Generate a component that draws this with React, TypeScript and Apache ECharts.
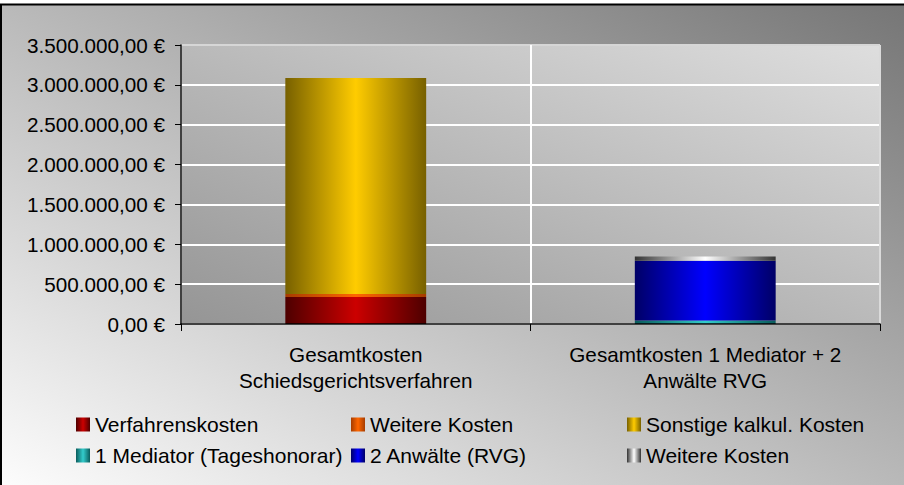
import React, { useEffect, useRef } from 'react';
import * as echarts from 'echarts';

const categories = ['Gesamtkosten\nSchiedsgerichtsverfahren', 'Gesamtkosten 1 Mediator + 2\nAnwälte RVG'];

const verfahrenskosten = [340000, '-'];
const weitereKostenSchied = [37000, '-'];
const sonstigeKosten = [2708000, '-'];
const mediator = ['-', 45000];
const anwaelte = ['-', 748000];
const weitereKostenMed = ['-', 54000];

const seriesNames = [
  'Verfahrenskosten',
  'Weitere Kosten',
  'Sonstige kalkul. Kosten',
  '1 Mediator (Tageshonorar)',
  '2 Anwälte (RVG)',
  'Weitere Kosten',
];

const yMin = 0;
const yMax = 3500000;
const yInterval = 500000;

const FONT = '"Liberation Sans", Arial, sans-serif';

function grad(dark: string, bright: string) {
  return new echarts.graphic.LinearGradient(0, 0, 1, 0, [
    { offset: 0, color: dark },
    { offset: 0.5, color: bright },
    { offset: 1, color: dark },
  ]);
}

function fmtEuro(v: number) {
  const s = Math.round(v).toString().replace(/\B(?=(\d{3})+(?!\d))/g, '.');
  return s + ',00 €';
}

export default function App() {
  const ref = useRef<HTMLDivElement>(null);
  useEffect(() => {
    document.body.style.margin = '0';
    const chart = echarts.init(ref.current!, undefined, { renderer: 'svg' });

    const colors = [
      grad('#4d0000', '#cc0000'),
      grad('#a63c00', '#ff6600'),
      grad('#776000', '#ffcc00'),
      grad('#0a5c5c', '#33cccc'),
      grad('#000066', '#0000ff'),
      grad('#333333', '#ffffff'),
    ];
    const datas = [verfahrenskosten, weitereKostenSchied, sonstigeKosten, mediator, anwaelte, weitereKostenMed];

    const legendBase = {
      padding: 0,
      itemWidth: 14,
      itemHeight: 14,
      icon: 'rect',
      selectedMode: false,
      textStyle: { fontSize: 21, color: '#000', fontFamily: FONT },
    };
    const legendPos = [
      [76, 414],
      [351, 414],
      [627, 414],
      [76, 445],
      [351, 445],
      [627, 445],
    ];

    const splitColors = ['#ffffff', '#ffffff', '#ffffff', '#ffffff', '#ffffff', '#ffffff', '#ffffff', '#d6d6d6'];
    const xSplitColors = ['#ffffff', '#ffffff', '#dadada'];

    chart.setOption({
      animation: false,
      textStyle: { fontFamily: FONT },
      graphic: [
        {
          type: 'rect',
          z: -100,
          silent: true,
          shape: { x: 1, y: 4.5, width: 930, height: 500 },
          style: {
            fill: new echarts.graphic.LinearGradient(0, 1, 1, 0, [
              { offset: 0, color: '#ffffff' },
              { offset: 1, color: '#747474' },
            ]),
            stroke: '#000',
            lineWidth: 2,
          },
        },
      ],
      grid: {
        left: 181,
        right: 24,
        top: 45,
        bottom: 161,
        show: true,
        backgroundColor: new echarts.graphic.LinearGradient(0, 1, 1, 0, [
          { offset: 0, color: '#959595' },
          { offset: 1, color: '#dedede' },
        ]),
        borderColor: '#cfcfcf',
        borderWidth: 1,
      },
      legend: seriesNames.map((n, i) => ({
        ...legendBase,
        left: legendPos[i][0],
        top: legendPos[i][1],
        data: i === 5 ? [{ name: n, itemStyle: { color: colors[5] } }] : [n],
      })),
      xAxis: [
        {
          type: 'category',
          data: categories,
          axisLine: { show: false },
          axisTick: { show: false },
          axisLabel: { interval: 0, hideOverlap: false, fontSize: 20.7, color: '#000', lineHeight: 26, margin: 17, fontFamily: FONT },
          splitLine: { show: true, interval: 0, lineStyle: { color: xSplitColors, width: 2 } },
        },
        {
          type: 'category',
          data: categories,
          position: 'bottom',
          z: 10,
          axisLine: { show: true, lineStyle: { color: '#000', width: 1.5 } },
          axisTick: { show: true, interval: 0, length: 7, lineStyle: { color: '#000' } },
          axisLabel: { show: false, interval: 0 },
          splitLine: { show: false },
        },
      ],
      yAxis: {
        type: 'value',
        min: yMin,
        max: yMax,
        interval: yInterval,
        axisLine: { show: true, lineStyle: { color: '#000', width: 1.5 } },
        axisTick: { show: true, length: 6, lineStyle: { color: '#000' } },
        axisLabel: { fontSize: 20.7, color: '#000', margin: 16, formatter: fmtEuro, fontFamily: FONT },
        splitLine: { show: true, lineStyle: { color: splitColors, width: 2 } },
      },
      series: seriesNames.map((n, i) => ({
        name: n,
        type: 'bar',
        stack: 'total',
        barWidth: '40.3%',
        xAxisIndex: 0,
        data: datas[i],
        itemStyle: { color: colors[i] },
      })),
    });
    return () => chart.dispose();
  }, []);
  return <div ref={ref} style={{ width: 904, height: 485 }} />;
}
